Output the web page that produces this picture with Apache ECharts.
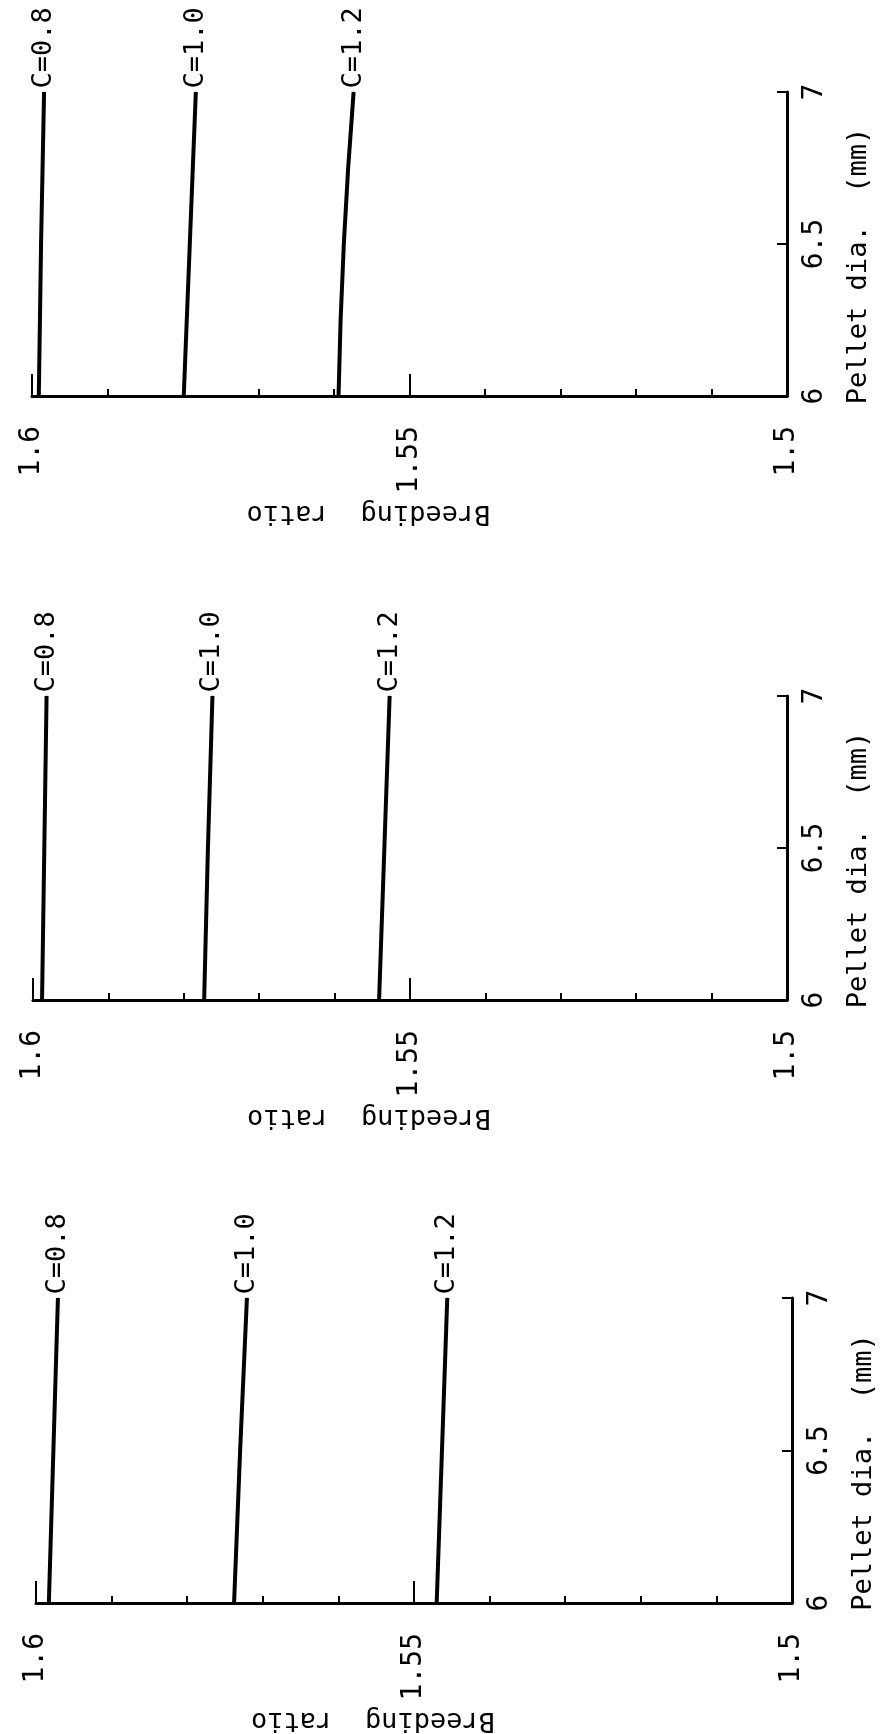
<!DOCTYPE html>
<html>
<head>
<meta charset="utf-8">
<script src="https://cdn.jsdelivr.net/npm/echarts@6/dist/echarts.min.js"></script>
<style>
  html, body { margin: 0; padding: 0; background: #fff; }
  #container { width: 884px; height: 1734px; }
</style>
</head>
<body>
<div id="container"></div>

<script type="text/javascript">
    // pellet diameter (mm) at which each curve is read
    var pellet = [6, 6.5, 7];
    var curveNames = ['C=0.8', 'C=1.0', 'C=1.2'];

    // breeding ratio, top to bottom
    var panel1 = [
        [1.5991, 1.5988, 1.5984],
        [1.5799, 1.5791, 1.5783],
        [1.5594, 1.5587, 1.5574]
    ];
    var panel2 = [
        [1.5988, 1.5985, 1.5982],
        [1.5773, 1.5768, 1.5762],
        [1.5541, 1.5534, 1.5527]
    ];
    var panel3 = [
        [1.5983, 1.5977, 1.5971],
        [1.5738, 1.5730, 1.5721],
        [1.5470, 1.5463, 1.5456]
    ];
    var panels = [panel1, panel2, panel3];

    var ratioMin = 1.5, ratioMax = 1.6, ratioStep = 0.05;
    var pelletMin = 6, pelletMax = 7, pelletStep = 0.5;

    var font = 'DejaVu Sans Mono';
    var ink = '#000';

    // grid boxes (page is the rotated scan)
    var boxes = [
        {left: 32, right: 97, top: 92, height: 304},
        {left: 33, right: 97, top: 696, height: 304},
        {left: 36, right: 92, top: 1298, height: 305}
    ];

    var grids = [], xAxes = [], yAxes = [], series = [];

    boxes.forEach(function (b, i) {
        grids.push({left: b.left, right: b.right, top: b.top, height: b.height, outerBoundsMode: 'none'});

        xAxes.push({
            type: 'value', gridIndex: i, position: 'bottom', inverse: true,
            min: ratioMin, max: ratioMax, interval: ratioStep,
            axisLine: {onZero: false, lineStyle: {color: ink, width: 3}},
            axisTick: {inside: true, length: 22, lineStyle: {color: ink, width: 2}},
            minorTick: {show: true, splitNumber: 5, length: 7, lineStyle: {color: ink, width: 2}},
            splitLine: {show: false},
            minorSplitLine: {show: false},
            axisLabel: {rotate: 90, margin: 30, fontSize: 28, fontFamily: font, color: ink},
            name: 'Breeding  ratio', nameLocation: 'middle', nameRotate: 180, nameGap: 104,
            nameTextStyle: {fontSize: 27, fontFamily: font, color: ink, padding: [0, 0, 0, 82]}
        });

        yAxes.push({
            type: 'value', gridIndex: i, position: 'right',
            min: pelletMin, max: pelletMax, interval: pelletStep,
            axisLine: {onZero: false, lineStyle: {color: ink, width: 3}},
            axisTick: {inside: true, length: 10, lineStyle: {color: ink, width: 2}},
            splitLine: {show: false},
            axisLabel: {rotate: 90, margin: 14, fontSize: 28, fontFamily: font, color: ink},
            name: 'Pellet dia.  (mm)', nameLocation: 'middle', nameRotate: 90, nameGap: 58,
            nameTextStyle: {fontSize: 27, fontFamily: font, color: ink, padding: [0, 44, 0, 0]}
        });

        panels[i].forEach(function (vals, k) {
            series.push({
                type: 'line', name: curveNames[k],
                xAxisIndex: i, yAxisIndex: i,
                data: vals.map(function (r, j) { return [r, pellet[j]]; }),
                smooth: true,
                symbol: 'circle', symbolSize: 1, showSymbol: true,
                itemStyle: {color: ink},
                lineStyle: {color: ink, width: 4},
                label: {
                    show: true, position: 'top', distance: 3, rotate: 90,
                    align: 'left', verticalAlign: 'middle',
                    fontSize: 27, fontFamily: font, color: ink,
                    formatter: function (p) {
                        return p.dataIndex === pellet.length - 1 ? p.seriesName : '';
                    }
                },
                emphasis: {disabled: true},
                silent: true,
                animation: false
            });
        });
    });

    var dom = document.getElementById('container');
    var myChart = echarts.init(dom);
    var option = {
        backgroundColor: '#fff',
        animation: false,
        grid: grids,
        xAxis: xAxes,
        yAxis: yAxes,
        series: series
    };
    myChart.setOption(option);
</script>
</body>
</html>
